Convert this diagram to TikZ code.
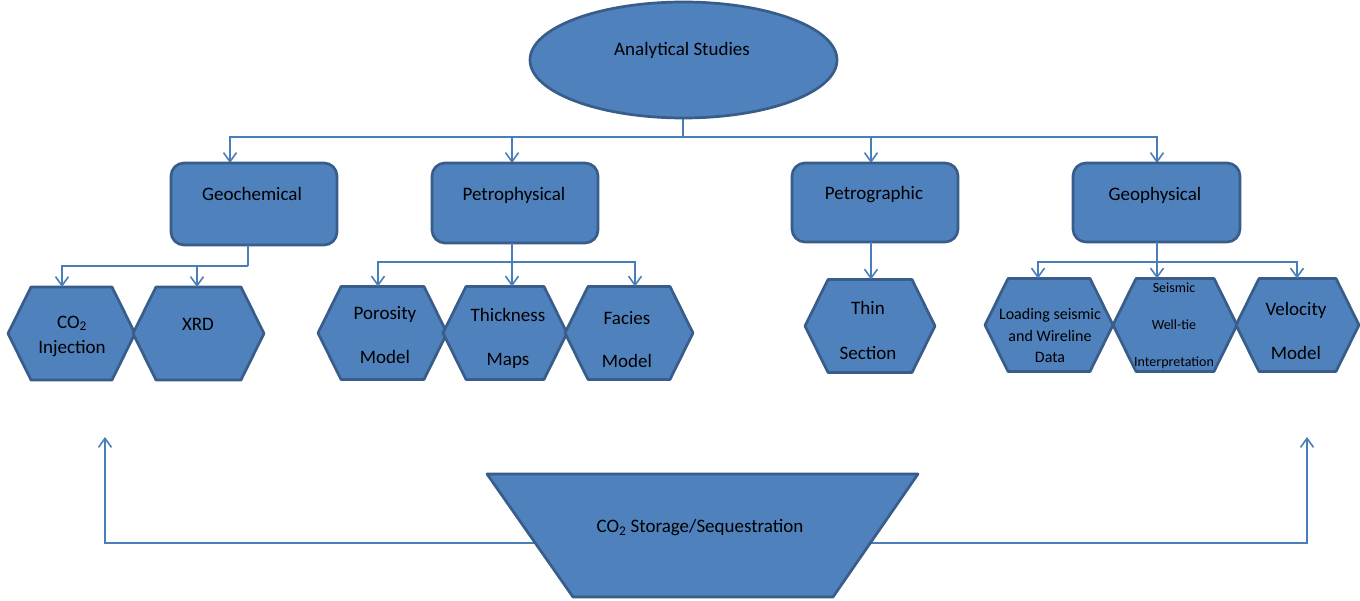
\documentclass[tikz,border=0pt]{standalone}
\usepackage{fontspec}
\setmainfont{Carlito}
\usetikzlibrary{arrows.meta,calc,shapes.geometric}
\definecolor{fillblue}{HTML}{4F81BD}
\definecolor{edgeblue}{HTML}{385D8A}
\definecolor{linkblue}{HTML}{4A7EBB}
\begin{document}
\begin{tikzpicture}[x=1pt,y=-1pt,
  shapestyle/.style={fill=fillblue,draw=edgeblue,line width=2.7pt,line join=round},
  txt/.style={font=\fontsize{19}{23}\selectfont,text=black,inner sep=0pt,align=center},
  holder/.style={inner sep=0pt,outer sep=0pt},
  conn/.style={draw=linkblue,line width=1.6pt},
  arr/.style={conn,-{Straight Barb[length=9pt,width=13pt,line width=1.6pt]}}
]
\useasboundingbox[fill=white] (0,0) rectangle (1360,601);

% hexagon helper: name, cx, cy, w
\newcommand{\hexbox}[4]{%
  \node[holder,minimum width=#4,minimum height=93] (#1) at (#2,#3) {};
  \draw[shapestyle] (#1.west) -- ([xshift=23pt]#1.north west) -- ([xshift=-23pt]#1.north east)
    -- (#1.east) -- ([xshift=-23pt]#1.south east) -- ([xshift=23pt]#1.south west) -- cycle;
}

% ---------- connectors (drawn first) ----------
\coordinate (bus) at (683,137);
\node[holder,ellipse,minimum width=307,minimum height=116] (as) at (683.5,60) {};
\node[holder,minimum width=166,minimum height=82] (geo) at (254,204) {};
\node[holder,minimum width=166,minimum height=80] (pphys) at (515,203) {};
\node[holder,minimum width=166,minimum height=79] (pgraph) at (875,202.5) {};
\node[holder,minimum width=167,minimum height=79] (gphys) at (1156.5,202.5) {};

\draw[conn] ([xshift=-0.5pt]as.south) -- (bus);
\draw[arr] (bus) -| ([xshift=-24pt]geo.north);
\draw[arr] (bus) -| ([xshift=-3pt]pphys.north);
\draw[arr] (bus) -| ([xshift=-4pt]pgraph.north);
\draw[arr] (bus) -| ([xshift=0.5pt]gphys.north);

% ---------- ellipse ----------
\draw[shapestyle] (as.center) ellipse [x radius=153.5, y radius=58];
\node[txt] (ast) at (682,50) {Analytical Studies};

% ---------- rounded boxes ----------
\foreach \n in {geo,pphys,pgraph,gphys}{
  \draw[shapestyle,rounded corners=13pt] (\n.north west) rectangle (\n.south east);
}
\node[txt] (geot) at (252,194) {Geochemical};
\node[txt] (pphyst) at (514,195) {Petrophysical};
\node[txt] (pgrapht) at (874,195) {Petrographic};
\node[txt] (gphyst) at (1155,195) {Geophysical};

% ---------- hexagons ----------
\hexbox{co2}{71.5}{333.5}{127}
\hexbox{xrd}{198.5}{333.5}{131}
\hexbox{por}{382.5}{333}{129}
\hexbox{thk}{505}{333}{124}
\hexbox{fac}{629}{333}{128}
\hexbox{thin}{870}{326}{130}
\hexbox{load}{1049}{325}{128}
\hexbox{seis}{1175}{325}{124}
\hexbox{vel}{1297.5}{325}{123}

\node[txt,font=\fontsize{19}{25}\selectfont] (co2t) at (72,336) {CO\textsubscript{2}\\Injection};
\node[txt] (xrdt) at (198,324) {XRD};
\node[txt,font=\fontsize{19}{44}\selectfont] (port) at (385,335.5) {Porosity\\Model};
\node[txt,font=\fontsize{19}{44}\selectfont] (thkt) at (508,338.5) {Thickness\\Maps};
\node[txt,font=\fontsize{19}{43}\selectfont] (fact) at (627,340) {Facies\\Model};
\node[txt,font=\fontsize{19}{45}\selectfont] (thint) at (868,330) {Thin\\Section};
\node[txt,font=\fontsize{16}{21.5}\selectfont] (loadt) at (1050,336) {Loading seismic\\and Wireline\\Data};
\node[txt,font=\fontsize{14}{37}\selectfont] (seist) at (1174,326) {Seismic\\Well-tie\\Interpretation};
\node[txt,font=\fontsize{19}{44}\selectfont] (velt) at (1296,330.5) {Velocity\\Model};

% ---------- second-level connectors ----------
\coordinate (geobus) at (248,266);
\draw[conn] ([xshift=-6pt]geo.south) -- (geobus);
\draw[arr] (geobus) -| ([xshift=-9.5pt]co2.north);
\draw[arr] (geobus) -| ([xshift=-1.5pt]xrd.north);

\coordinate (ppbus) at (512,262);
\draw[conn] ([xshift=-3pt]pphys.south) -- (ppbus);
\draw[arr] (ppbus) -| ([xshift=-4.5pt]por.north);
\draw[arr] (ppbus) -| ([xshift=7pt]thk.north);
\draw[arr] (ppbus) -| ([xshift=6pt]fac.north);

\draw[arr] ([xshift=-4pt]pgraph.south) -- ([xshift=1pt]thin.north);

\coordinate (gpbus) at (1157,262);
\draw[conn] ([xshift=0.5pt]gphys.south) -- (gpbus);
\draw[arr] (gpbus) -| ([xshift=-11pt]load.north);
\draw[arr] (gpbus) -| ([xshift=-18pt]seis.north);
\draw[arr] (gpbus) -| ([xshift=-0.5pt]vel.north);

% ---------- bottom trapezoid ----------
\coordinate (trapL) at (535,543);
\coordinate (trapR) at (870,543);
\coordinate (upL) at (105,437);
\coordinate (upR) at (1307,437);
\draw[arr] (trapL) -| (upL);
\draw[arr] (trapR) -| (upR);
\draw[shapestyle] (487,474) -- (918,474) -- (833,597) -- (573,597) -- cycle;
\node[txt] (storage) at (700,528) {CO\textsubscript{2} Storage/Sequestration};
\end{tikzpicture}
\end{document}
